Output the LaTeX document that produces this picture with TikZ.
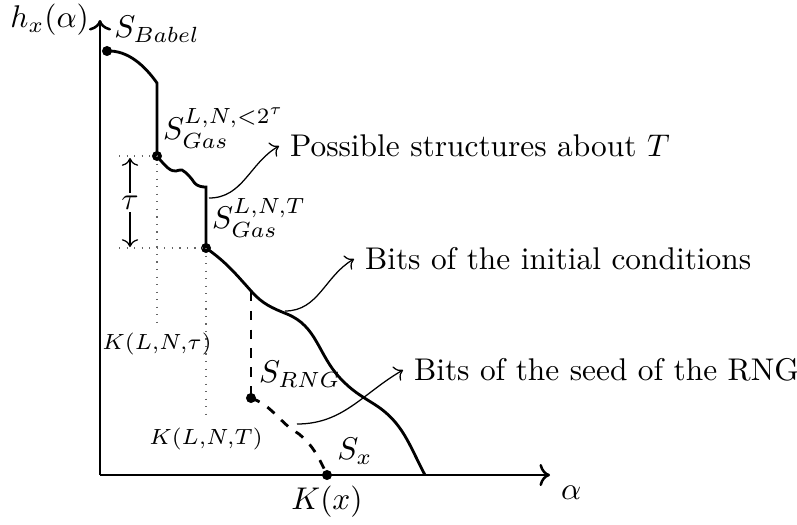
\documentclass[tikz,border=0pt]{standalone}
\usetikzlibrary{arrows.meta}

\begin{document}
\begin{tikzpicture}[
        x=0.0112cm,  % 1 unit = 1 pixel of the sketch
        y=-0.0112cm,
        dot/.style={circle, fill=black, inner sep=0pt, minimum size=3.2pt},
        curve/.style={line width=0.9pt},
        guide/.style={dotted, black!60},
        note/.style={->, thin},
    ]
    \useasboundingbox (0,0) rectangle (797,524);

    % Axes
    \coordinate (O) at (100,475);
    \coordinate (ytop) at (100,20);
    \coordinate (xend) at (550,475);
    \draw[thick, ->] (O) -- (ytop);
    \draw[thick, ->] (O) -- (xend);
    \node[left] (hlabel) at (ytop) {$h_x(\alpha)$};
    \node[below right] (alabel) at (xend) {$\alpha$};

    % Points on the curve
    \node[dot] (babel) at (107,51) {};
    \node[dot] (gastau) at (157,156) {};
    \node[dot] (gasT) at (206,248) {};
    \node[dot] (rng) at (251,398) {};
    \node[dot] (sx) at (327,475) {};

    % Main curve
    \draw[curve] (babel.center) .. controls (128,50) and (145,66) .. (157,83) -- (gastau.center);
    \draw[curve] plot[smooth, tension=0.8] coordinates {(157,156) (168,168) (176,171) (182,170) (190,177) (197,185) (206,187)} -- (gasT.center);
    \draw[curve] (gasT.center) to[out=-35, in=132] (252,292)
        to[out=-48, in=158] (287,314)
        to[out=-22, in=133] (340,378)
        to[out=-47, in=148] (374,404)
        to[out=-32, in=118] (425,475);

    % RNG branch
    \draw[curve, dashed] (251,292) -- (rng.center);
    \draw[curve, dashed] (rng.center) to[out=-20, in=140] (290,428)
        to[out=-25, in=150] (299,434)
        to[out=-40, in=115] (sx.center);

    % Labels of the sets
    \node (sbabel) at (157,29) {$S_{Babel}$};
    \node (sgastau) at (224,128) {$S_{Gas}^{L,N,<2^\tau}$};
    \node (sgasT) at (259,218) {$S_{Gas}^{L,N,T}$};
    \node (srng) at (300,374) {$S_{RNG}$};
    \node (slx) at (355,451) {$S_x$};
    \node[below] (kx) at (sx) {$K(x)$};

    % Dotted guides
    \coordinate (htau) at (119,156);
    \coordinate (hT) at (119,248);
    \coordinate (vtau) at (157,322);
    \coordinate (vT) at (206,417);
    \draw[guide] (htau) -- (gastau.center);
    \draw[guide] (hT) -- (gasT.center);
    \draw[guide] (gastau.center) -- (vtau);
    \draw[guide] (gasT.center) -- (vT);
    \node[below, font=\scriptsize] (ktau) at (vtau) {$K(L,\!N,\!\tau)$};
    \node[below, font=\scriptsize] (kT) at (vT) {$K(L,\!N,\!T)$};

    % Height tau
    \coordinate (tautop) at (130,158);
    \coordinate (taubot) at (130,247);
    \draw[<->] (tautop) -- (taubot) node[midway, fill=white, inner sep=1pt] (taulabel) {$\tau$};

    % Annotations
    \node[anchor=west] (structs) at (279,146) {Possible structures about $T$};
    \node[anchor=west] (initial) at (354,259) {Bits of the initial conditions};
    \node[anchor=west] (seed) at (403,370) {Bits of the seed of the RNG};
    \coordinate (n1) at (209,198);
    \coordinate (n2) at (285,311);
    \coordinate (n3) at (297,424);
    \draw[note] (n1) to[out=0, in=210] (structs.west);
    \draw[note] (n2) to[out=0, in=210] (initial.west);
    \draw[note] (n3) to[out=0, in=210] (seed.west);

\end{tikzpicture}
\end{document}
